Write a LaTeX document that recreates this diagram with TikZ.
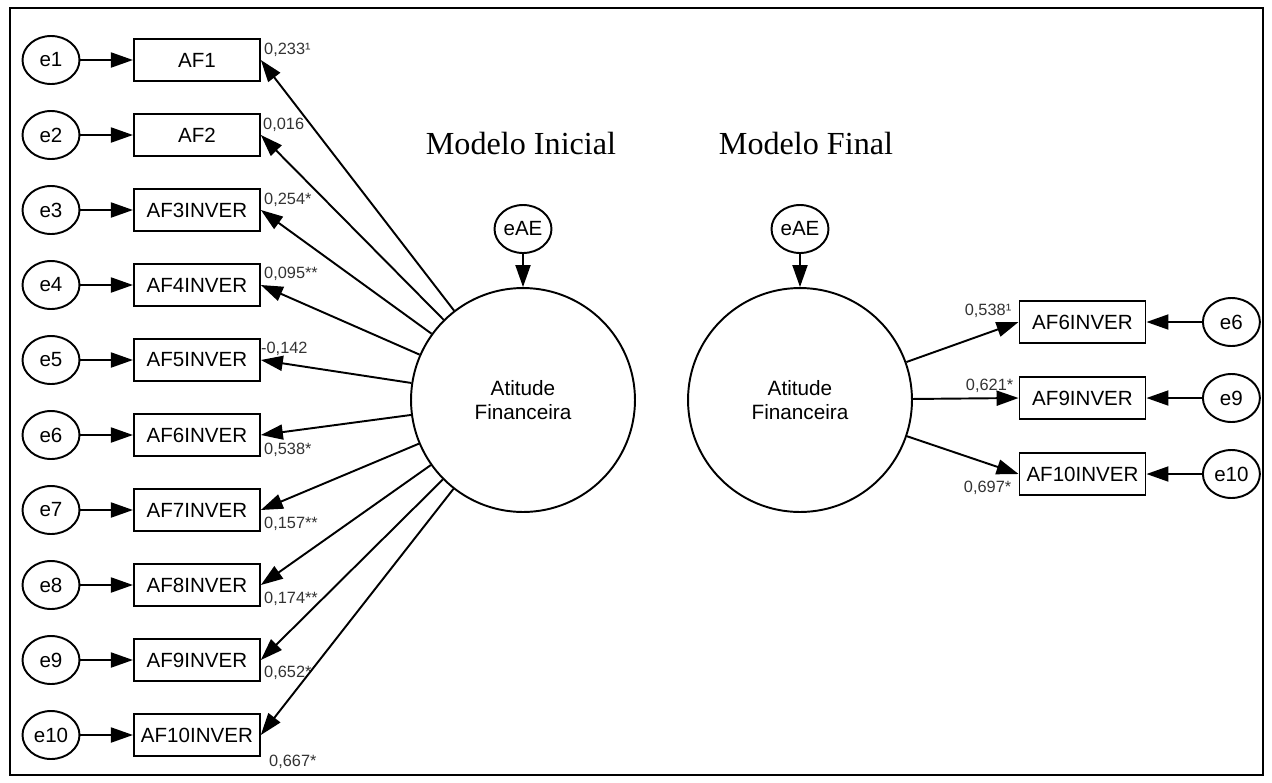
\documentclass[tikz,border=0pt]{standalone}
\usepackage{fontspec}
\setmainfont{Liberation Serif}
\setsansfont{Liberation Sans}
\usetikzlibrary{positioning,calc,arrows.meta,shapes.geometric}

\tikzset{
	errvar/.style={draw, ellipse, line width=1.1pt, minimum width=1.14cm, minimum height=0.96cm, inner sep=0pt, font=\sffamily\fontsize{11.7}{13}\selectfont},
	indic/.style={draw, rectangle, line width=1.1pt, minimum width=2.52cm, minimum height=0.84cm, inner sep=0pt, font=\sffamily\fontsize{11.7}{13}\selectfont},
	latent/.style={draw, circle, line width=1.1pt, minimum size=4.48cm, inner sep=0pt, align=center, font=\sffamily\fontsize{11.8}{14}\selectfont},
	coef/.style={inner sep=0pt, font=\sffamily\fontsize{9.3}{10}\selectfont, text=black!80},
	seta/.style={line width=1.1pt, -{Triangle[length=0.44cm,width=0.3cm]}},
	titulo/.style={font=\fontsize{18.3}{21}\selectfont},
}

\begin{document}
\begin{tikzpicture}[x=0.02cm, y=-0.02cm]
			\useasboundingbox (0,0) rectangle (1272,782);
			\draw[line width=1.1pt] (10,8) rectangle (1263,775);
			%
			\node[titulo] (tin) at (521,143) {Modelo Inicial};
			\node[latent] (af) at (523,400) {Atitude\\Financeira};
			\node[errvar] (eae) at (523,229) {eAE};
			\node[errvar] (e1) at (51,60) {e1};
			\node[errvar] (e2) at (51,135) {e2};
			\node[errvar] (e3) at (51,210) {e3};
			\node[errvar] (e4) at (51,285) {e4};
			\node[errvar] (e5) at (51,360) {e5};
			\node[errvar] (e6) at (51,435) {e6};
			\node[errvar] (e7) at (51,510) {e7};
			\node[errvar] (e8) at (51,585) {e8};
			\node[errvar] (e9) at (51,660) {e9};
			\node[errvar] (e10) at (51,735) {e10};
			\node[indic, right=1.05cm of e1] (af1) {AF1};
			\node[indic, right=1.05cm of e2] (af2) {AF2};
			\node[indic, right=1.05cm of e3] (af3) {AF3INVER};
			\node[indic, right=1.05cm of e4] (af4) {AF4INVER};
			\node[indic, right=1.05cm of e5] (af5) {AF5INVER};
			\node[indic, right=1.05cm of e6] (af6) {AF6INVER};
			\node[indic, right=1.05cm of e7] (af7) {AF7INVER};
			\node[indic, right=1.05cm of e8] (af8) {AF8INVER};
			\node[indic, right=1.05cm of e9] (af9) {AF9INVER};
			\node[indic, right=1.05cm of e10] (af10) {AF10INVER};
			\node[coef, anchor=base west] (c1) at ($(af1.north east)+(3,16)$) {0,233¹};
			\node[coef, anchor=base west] (c2) at ($(af2.north east)+(2,16)$) {0,016};
			\node[coef, anchor=base west] (c3) at ($(af3.north east)+(3,16)$) {0,254*};
			\node[coef, anchor=base west] (c4) at ($(af4.north east)+(3,15)$) {0,095**};
			\node[coef, anchor=base west] (c5) at ($(af5.north east)+(0,15)$) {-0,142};
			\node[coef, anchor=base west] (c6) at ($(af6.south east)+(3,-2)$) {0,538*};
			\node[coef, anchor=base west] (c7) at ($(af7.south east)+(3,-3)$) {0,157**};
			\node[coef, anchor=base west] (c8) at ($(af8.south east)+(3,-3)$) {0,174**};
			\node[coef, anchor=base west] (c9) at ($(af9.south east)+(3,-4)$) {0,652*};
			\node[coef, anchor=base west] (c10) at ($(af10.south east)+(8,10)$) {0,667*};
			%
			\draw[seta] (eae) -- (af);
			\draw[seta] (e1) -- (af1);
			\draw[seta] (e2) -- (af2);
			\draw[seta] (e3) -- (af3);
			\draw[seta] (e4) -- (af4);
			\draw[seta] (e5) -- (af5);
			\draw[seta] (e6) -- (af6);
			\draw[seta] (e7) -- (af7);
			\draw[seta] (e8) -- (af8);
			\draw[seta] (e9) -- (af9);
			\draw[seta] (e10) -- (af10);
			\draw[seta] (af) -- (af1.east);
			\draw[seta] (af) -- (af2.east);
			\draw[seta] (af) -- (af3.east);
			\draw[seta] (af) -- (af4.east);
			\draw[seta] (af) -- (af5.east);
			\draw[seta] (af) -- (af6.east);
			\draw[seta] (af) -- (af7.east);
			\draw[seta] (af) -- (af8.east);
			\draw[seta] (af) -- (af9.east);
			\draw[seta] (af) -- (af10.east);
			%
			\node[titulo] (tfi) at (806,143) {Modelo Final};
			\node[latent] (afr) at (800,400) {Atitude\\Financeira};
			\node[errvar] (eaer) at (800,229) {eAE};
			\node[indic] (r6) at (1082.5,322) {AF6INVER};
			\node[indic] (r9) at (1082.5,398) {AF9INVER};
			\node[indic] (r10) at (1082.5,474) {AF10INVER};
			\node[errvar, right=1.11cm of r6] (re6) {e6};
			\node[errvar, right=1.11cm of r9] (re9) {e9};
			\node[errvar, right=1.11cm of r10] (re10) {e10};
			\node[coef, anchor=base east] (rc6) at ($(r6.north west)+(-7,15)$) {0,538¹};
			\node[coef, anchor=base east] (rc9) at ($(r9.north west)+(-5,14)$) {0,621*};
			\node[coef, anchor=base east] (rc10) at ($(r10.south west)+(-7,-3)$) {0,697*};
			%
			\draw[seta] (eaer) -- (afr);
			\draw[seta] (afr) -- (r6.west);
			\draw[seta] (afr) -- (r9.west);
			\draw[seta] (afr) -- (r10.west);
			\draw[seta] (re6) -- (r6);
			\draw[seta] (re9) -- (r9);
			\draw[seta] (re10) -- (r10);
\end{tikzpicture}
\end{document}
